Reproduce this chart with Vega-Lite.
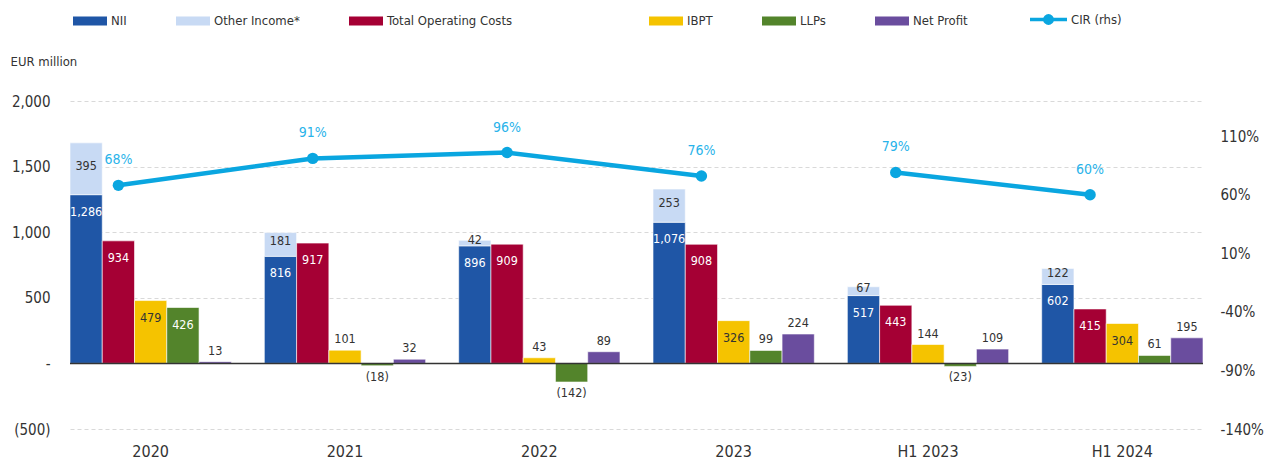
{
  "$schema": "https://vega.github.io/schema/vega-lite/v6.json",
  "width": 1133,
  "height": 328,
  "autosize": {"type": "none"},
  "padding": {"left": 70, "top": 101, "right": 65, "bottom": 35},
  "config": {
    "font": "DejaVu Sans Condensed, sans-serif",
    "view": {"stroke": null},
    "text": {"font": "DejaVu Sans Condensed, sans-serif"}
  },
  "datasets": {
    "bars": [
      {"period": "2020", "series": "NII", "value": 1286},
      {"period": "2020", "series": "Other Income*", "value": 395},
      {"period": "2020", "series": "Total Operating Costs", "value": 934},
      {"period": "2020", "series": "IBPT", "value": 479},
      {"period": "2020", "series": "LLPs", "value": 426},
      {"period": "2020", "series": "Net Profit", "value": 13},
      {"period": "2021", "series": "NII", "value": 816},
      {"period": "2021", "series": "Other Income*", "value": 181},
      {"period": "2021", "series": "Total Operating Costs", "value": 917},
      {"period": "2021", "series": "IBPT", "value": 101},
      {"period": "2021", "series": "LLPs", "value": -18},
      {"period": "2021", "series": "Net Profit", "value": 32},
      {"period": "2022", "series": "NII", "value": 896},
      {"period": "2022", "series": "Other Income*", "value": 42},
      {"period": "2022", "series": "Total Operating Costs", "value": 909},
      {"period": "2022", "series": "IBPT", "value": 43},
      {"period": "2022", "series": "LLPs", "value": -142},
      {"period": "2022", "series": "Net Profit", "value": 89},
      {"period": "2023", "series": "NII", "value": 1076},
      {"period": "2023", "series": "Other Income*", "value": 253},
      {"period": "2023", "series": "Total Operating Costs", "value": 908},
      {"period": "2023", "series": "IBPT", "value": 326},
      {"period": "2023", "series": "LLPs", "value": 99},
      {"period": "2023", "series": "Net Profit", "value": 224},
      {"period": "H1 2023", "series": "NII", "value": 517},
      {"period": "H1 2023", "series": "Other Income*", "value": 67},
      {"period": "H1 2023", "series": "Total Operating Costs", "value": 443},
      {"period": "H1 2023", "series": "IBPT", "value": 144},
      {"period": "H1 2023", "series": "LLPs", "value": -23},
      {"period": "H1 2023", "series": "Net Profit", "value": 109},
      {"period": "H1 2024", "series": "NII", "value": 602},
      {"period": "H1 2024", "series": "Other Income*", "value": 122},
      {"period": "H1 2024", "series": "Total Operating Costs", "value": 415},
      {"period": "H1 2024", "series": "IBPT", "value": 304},
      {"period": "H1 2024", "series": "LLPs", "value": 61},
      {"period": "H1 2024", "series": "Net Profit", "value": 195}
    ],
    "cir": [
      {"period": "2020", "cir": 68, "basis": "FY"},
      {"period": "2021", "cir": 91, "basis": "FY"},
      {"period": "2022", "cir": 96, "basis": "FY"},
      {"period": "2023", "cir": 76, "basis": "FY"},
      {"period": "H1 2023", "cir": 79, "basis": "H1"},
      {"period": "H1 2024", "cir": 60, "basis": "H1"}
    ]
  },
  "layer": [
    {
      "data": {"name": "bars"},
      "transform": [
        {"calculate": "datum.series === 'Other Income*' ? 'NII' : datum.series", "as": "slot"},
        {"calculate": "datum.series === 'Other Income*' ? 1 : 0", "as": "stackOrder"},
        {"joinaggregate": [{"op": "sum", "field": "value", "as": "stackTop"}], "groupby": ["period", "slot"]},
        {"calculate": "datum.stackTop - datum.value / 2", "as": "mid"},
        {"calculate": "datum.value < 0 ? '(' + format(-datum.value, ',') + ')' : format(datum.value, ',')", "as": "label"}
      ],
      "layer": [
        {
          "mark": {"type": "bar", "stroke": "white", "strokeWidth": 0.6},
          "encoding": {
            "x": {"field": "period", "type": "nominal", "sort": ["2020", "2021", "2022", "2023", "H1 2023", "H1 2024"],
              "scale": {"paddingInner": 0.17, "paddingOuter": 0},
              "axis": {"title": null, "domain": false, "ticks": false, "labelAngle": 0, "labelFontSize": 16, "labelColor": "#333333", "labelPadding": 14, "labelFont": "DejaVu Sans Condensed, sans-serif"}},
            "xOffset": {"field": "slot", "type": "nominal", "scale": {"domain": ["NII", "Total Operating Costs", "IBPT", "LLPs", "Net Profit"], "paddingInner": 0, "paddingOuter": 0}},
            "y": {"field": "value", "type": "quantitative", "stack": "zero", "title": "EUR million",
              "scale": {"domain": [-500, 2000], "nice": false, "zero": false},
              "axis": {"values": [-500, 0, 500, 1000, 1500, 2000], "domain": false, "ticks": false,
                "labelExpr": "datum.value == 0 ? '-' : (datum.value < 0 ? '(' + format(-datum.value, ',') + ')' : format(datum.value, ','))",
                "labelFontSize": 15, "labelColor": "#333333", "labelPadding": 20, "labelFont": "DejaVu Sans Condensed, sans-serif",
                "grid": true, "gridColor": "#d9d9d9", "gridDash": [4, 3], "gridWidth": 1,
                "titleAngle": 0, "titleAlign": "left", "titleBaseline": "middle", "titleX": -60, "titleY": -40,
                "titleFontWeight": "normal", "titleFontSize": 13, "titleColor": "#333333", "titleFont": "DejaVu Sans Condensed, sans-serif"}},
            "color": {"field": "series", "type": "nominal",
              "scale": {"domain": ["NII", "Other Income*", "Total Operating Costs", "gap", "IBPT", "LLPs", "Net Profit"],
                "range": ["#1F56A6", "#C8DAF4", "#A50034", "rgba(0,0,0,0)", "#F5C300", "#53842B", "#6A4D9E"]},
              "legend": {"title": null, "orient": "none", "legendX": 3, "legendY": -97, "direction": "horizontal",
                "symbolType": "M-1,-0.26H1V0.26H-1Z", "symbolSize": 1156, "symbolStrokeWidth": 0,
                "labelFontSize": 13, "labelColor": "#333333", "labelOffset": 4, "columnPadding": 49, "padding": 0,
                "labelFont": "DejaVu Sans Condensed, sans-serif",
                "labelExpr": "datum.label === 'gap' ? '\u00a0\u00a0\u00a0\u00a0\u00a0' : datum.label"}},
            "order": {"field": "stackOrder", "type": "quantitative"}
          }
        },
        {
          "data": {"values": [{}]},
          "mark": {"type": "rule", "color": "#333333", "strokeWidth": 1.5},
          "encoding": {"y": {"datum": 0, "type": "quantitative", "title": "EUR million"}}
        },
        {
          "transform": [{"filter": "datum.series === 'NII' || datum.series === 'Total Operating Costs' || ((datum.series === 'LLPs' || datum.series === 'IBPT') && datum.value >= 250)"}],
          "mark": {"type": "text", "baseline": "middle", "dy": 17, "fontSize": 12.5},
          "encoding": {
            "x": {"field": "period", "type": "nominal", "sort": ["2020", "2021", "2022", "2023", "H1 2023", "H1 2024"]},
            "xOffset": {"field": "slot", "type": "nominal"},
            "y": {"field": "value", "type": "quantitative", "stack": null, "title": "EUR million"},
            "text": {"field": "label"},
            "color": {"condition": {"test": "datum.series === 'IBPT'", "value": "#333333"}, "value": "#ffffff"}
          }
        },
        {
          "transform": [{"filter": "datum.series === 'Other Income*'"}],
          "mark": {"type": "text", "baseline": "middle", "dy": -3, "fontSize": 12.5, "color": "#333333"},
          "encoding": {
            "x": {"field": "period", "type": "nominal", "sort": ["2020", "2021", "2022", "2023", "H1 2023", "H1 2024"]},
            "xOffset": {"field": "slot", "type": "nominal"},
            "y": {"field": "mid", "type": "quantitative", "stack": null, "title": "EUR million"},
            "text": {"field": "label"}
          }
        },
        {
          "transform": [{"filter": "datum.series === 'Net Profit' || ((datum.series === 'LLPs' || datum.series === 'IBPT') && datum.value >= 0 && datum.value < 250)"}],
          "mark": {"type": "text", "baseline": "middle", "dy": -11, "fontSize": 12.5, "color": "#333333"},
          "encoding": {
            "x": {"field": "period", "type": "nominal", "sort": ["2020", "2021", "2022", "2023", "H1 2023", "H1 2024"]},
            "xOffset": {"field": "slot", "type": "nominal"},
            "y": {"field": "value", "type": "quantitative", "stack": null, "title": "EUR million"},
            "text": {"field": "label"}
          }
        },
        {
          "transform": [{"filter": "datum.value < 0"}],
          "mark": {"type": "text", "baseline": "middle", "dy": 11, "fontSize": 12.5, "color": "#333333"},
          "encoding": {
            "x": {"field": "period", "type": "nominal", "sort": ["2020", "2021", "2022", "2023", "H1 2023", "H1 2024"]},
            "xOffset": {"field": "slot", "type": "nominal"},
            "y": {"field": "value", "type": "quantitative", "stack": null, "title": "EUR million"},
            "text": {"field": "label"}
          }
        }
      ]
    },
    {
      "data": {"name": "cir"},
      "transform": [{"calculate": "datum.cir + '%'", "as": "cirLabel"}],
      "encoding": {
        "x": {"field": "period", "type": "nominal", "sort": ["2020", "2021", "2022", "2023", "H1 2023", "H1 2024"]},
        "xOffset": {"datum": "Total Operating Costs", "type": "nominal"},
        "y": {"field": "cir", "type": "quantitative", "title": null,
          "scale": {"domain": [-140, 140], "nice": false, "zero": false},
          "axis": {"orient": "right", "values": [-140, -90, -40, 10, 60, 110], "labelExpr": "datum.value + '%'",
            "domain": false, "ticks": false, "grid": false, "labelFontSize": 15, "labelColor": "#333333", "labelPadding": 17,
            "labelFont": "DejaVu Sans Condensed, sans-serif"}}
      },
      "layer": [
        {
          "mark": {"type": "line", "strokeWidth": 4.5},
          "encoding": {
            "detail": {"field": "basis"},
            "stroke": {"datum": "CIR (rhs)", "scale": {"range": ["#0AA6E0"]},
              "legend": {"title": null, "orient": "none", "legendX": 958, "legendY": -102, "direction": "horizontal",
                "symbolType": "M-1,0H1M0.2,0A0.2,0.2,0,1,1,-0.2,0A0.2,0.2,0,1,1,0.2,0Z", "symbolSize": 1369,
                "symbolStrokeWidth": 3.5, "symbolFillColor": "#0AA6E0", "labelFontSize": 13, "labelColor": "#333333", "labelOffset": 2, "padding": 0,
                "labelFont": "DejaVu Sans Condensed, sans-serif"}}
          }
        },
        {
          "mark": {"type": "point", "filled": true, "size": 130, "opacity": 1, "color": "#0AA6E0"}
        },
        {
          "mark": {"type": "text", "baseline": "middle", "dy": -25, "fontSize": 14, "color": "#29B3EA"},
          "encoding": {"text": {"field": "cirLabel"}}
        }
      ]
    }
  ],
  "resolve": {"scale": {"y": "independent"}}
}
